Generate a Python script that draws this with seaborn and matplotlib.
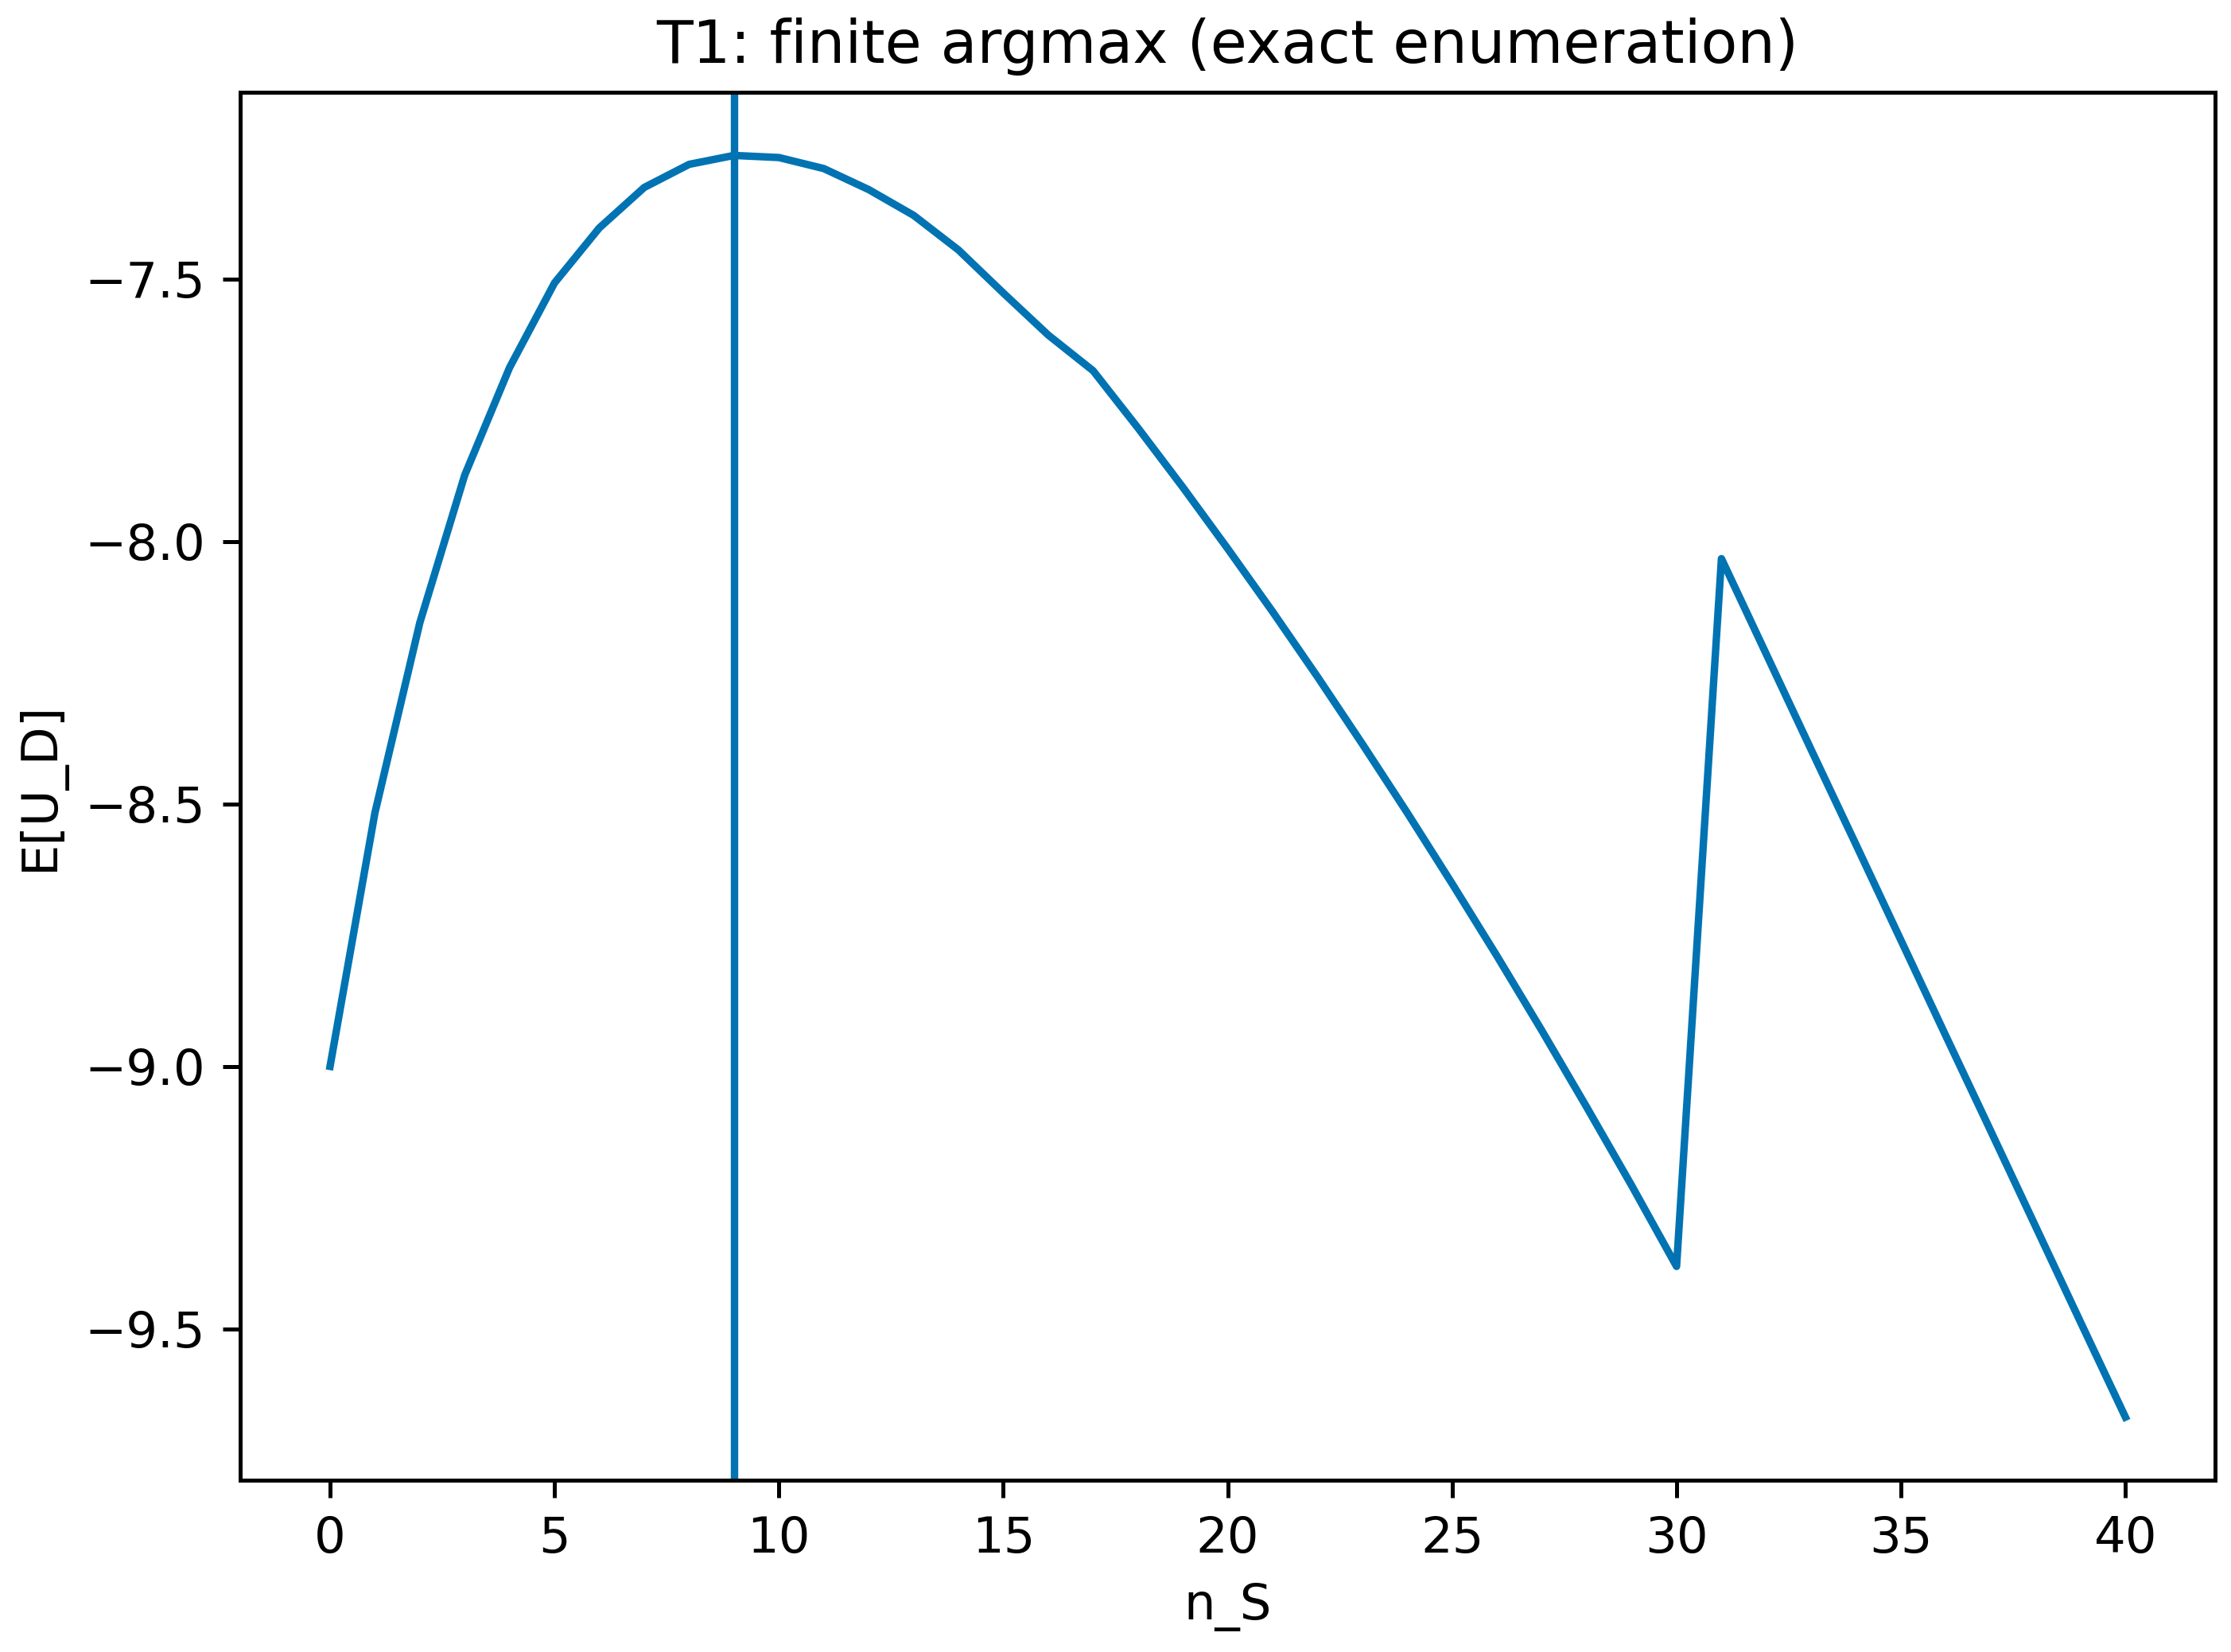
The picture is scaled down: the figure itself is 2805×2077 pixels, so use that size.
import pandas as pd
import matplotlib
matplotlib.use("Agg")
import matplotlib.pyplot as plt
import seaborn as sns

# Values
n_S = list(range(0, 41))
expected_U_D = [
    -9.000, -8.517, -8.155, -7.874, -7.669, -7.508, -7.403, -7.326, -7.282, -7.265,
    -7.269, -7.290, -7.330, -7.379, -7.445, -7.527, -7.607, -7.675, -7.784, -7.897,
    -8.014, -8.134, -8.258, -8.386, -8.517, -8.652, -8.790, -8.932, -9.078, -9.227,
    -9.381, -8.033, -8.215, -8.397, -8.578, -8.760, -8.942, -9.123, -9.305, -9.487,
    -9.668,
]
argmax_n = 9

df = pd.DataFrame({"n_S": n_S, "E[U_D]": expected_U_D})

sns.set_palette("colorblind")
color = sns.color_palette("colorblind")[0]

fig, ax = plt.subplots(figsize=(2805 / 450, 2077 / 450), dpi=450)
fig.subplots_adjust(left=0.1077, right=0.9929, top=0.9441, bottom=0.1040)

sns.lineplot(data=df, x="n_S", y="E[U_D]", color=color, linewidth=1.5, ax=ax)
ax.axvline(argmax_n, color=color, linewidth=1.5)

ax.set_title("T1: finite argmax (exact enumeration)")
ax.set_xlabel("n_S")
ax.set_ylabel("E[U_D]")

fig.savefig("out.png", dpi=450)
